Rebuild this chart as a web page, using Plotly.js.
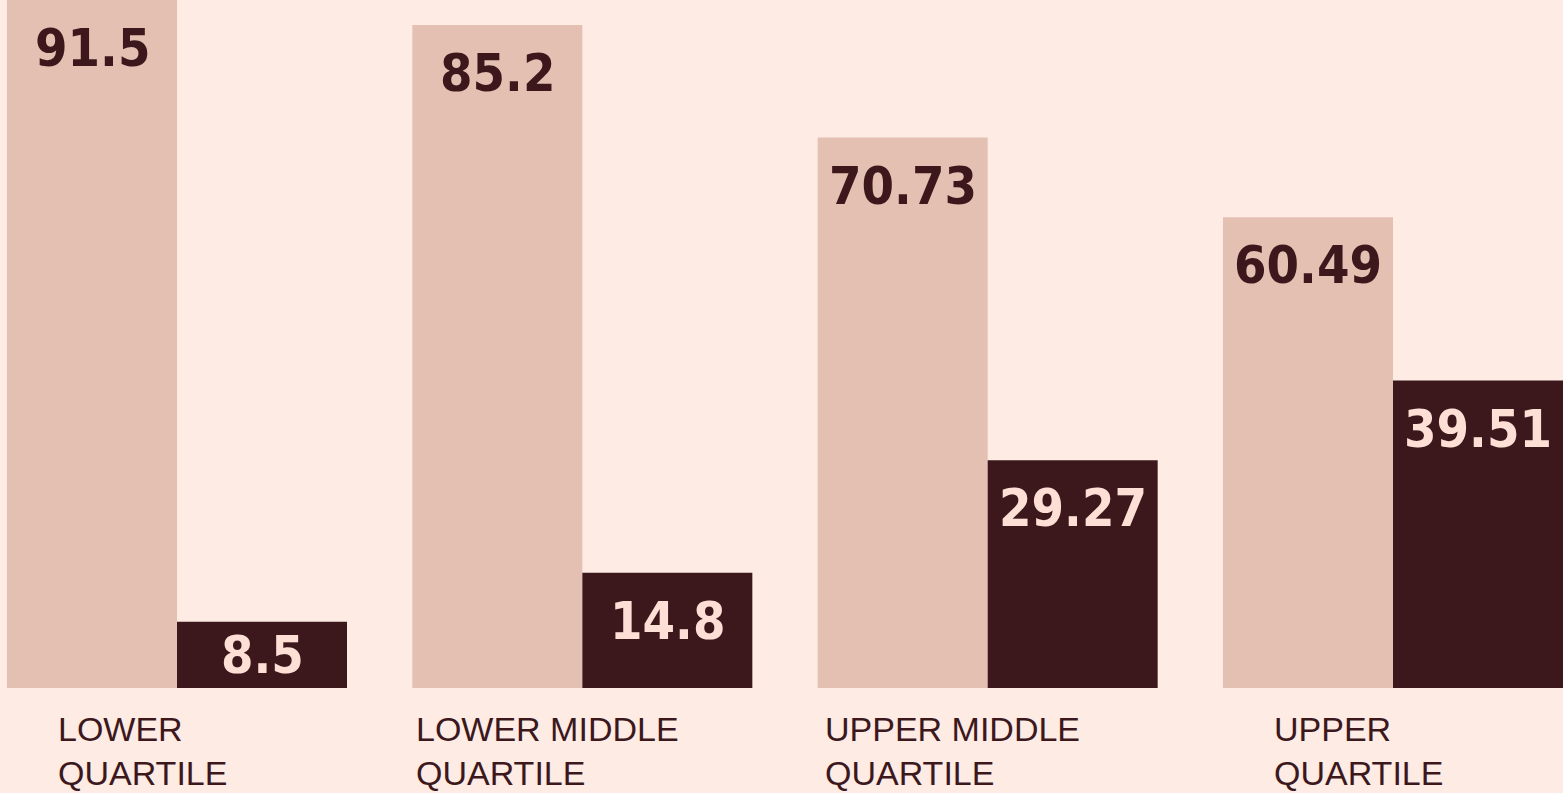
<!DOCTYPE html>
<html>
<head>
<meta charset="utf-8">
<script src="https://cdn.plot.ly/plotly-3.0.1.min.js"></script>
<style>
html,body{margin:0;padding:0;background:#fdebe4;}
#chart{width:1563px;height:793px;}
</style>
</head>
<body>
<div id="chart"></div>
<script>
const categories = ["LOWER<br>QUARTILE", "LOWER MIDDLE<br>QUARTILE", "UPPER MIDDLE<br>QUARTILE", "UPPER<br>QUARTILE"];
const lightValues = [91.5, 85.2, 70.73, 60.49];
const darkValues = [8.5, 14.8, 29.27, 39.51];
const lightText = ["91.5", "85.2", "70.73", "60.49"];
const darkText = ["8.5", "14.8", "29.27", "39.51"];

const BG = "#fdebe4", LIGHT = "#e4c0b3", DARK = "#3c181d", PALE = "#fddfd5";
const valueFont = "'Liberation Sans Narrow', 'Arial Narrow', 'DejaVu Sans Condensed', sans-serif";
const idx = categories.map((c, i) => i);

const Y_MAX = 88.41;
const BARGAP = 0.1612;
const BAR_W = (1 - BARGAP) / 2;
const PLOT_H = 688;

const traces = [
  {type: "bar", x: idx, y: lightValues, marker: {color: LIGHT}, hoverinfo: "skip"},
  {type: "bar", x: idx, y: darkValues, marker: {color: DARK}, hoverinfo: "skip"}
];

function valueLabels(values, texts, side, color) {
  return values.map((v, i) => {
    const frac = Math.min(v / Y_MAX, 1);
    const short = frac * PLOT_H < 110;
    return {
      x: idx[i] + side * BAR_W / 2, xref: "x",
      y: short ? frac / 2 : frac, yref: "paper",
      yanchor: short ? "middle" : "top", yshift: short ? 0 : -16,
      xanchor: "center", text: texts[i], showarrow: false,
      font: {family: valueFont, size: 52, color: color, weight: "bold"}
    };
  });
}

const catLabels = categories.map((c, i) => ({
  x: i, xref: "x", y: 0, yref: "paper", yanchor: "top", xanchor: "center",
  xshift: -35, yshift: -20, text: c, align: "left", showarrow: false,
  font: {family: "'Liberation Sans', Arial, sans-serif", size: 34, color: DARK}
}));

const layout = {
  width: 1563, height: 793,
  margin: {l: 0, r: 0, t: 0, b: 793 - PLOT_H},
  paper_bgcolor: BG, plot_bgcolor: BG,
  barmode: "group", bargap: BARGAP, bargroupgap: 0,
  showlegend: false,
  xaxis: {type: "linear", range: [-0.4367, 3.4194], showgrid: false, zeroline: false,
          showticklabels: false, ticks: "", fixedrange: true},
  yaxis: {range: [0, Y_MAX], showgrid: false, zeroline: false, showticklabels: false,
          ticks: "", fixedrange: true},
  annotations: valueLabels(lightValues, lightText, -1, DARK)
    .concat(valueLabels(darkValues, darkText, 1, PALE))
    .concat(catLabels)
};

Plotly.newPlot("chart", traces, layout, {displayModeBar: false, staticPlot: true});
</script>
</body>
</html>
